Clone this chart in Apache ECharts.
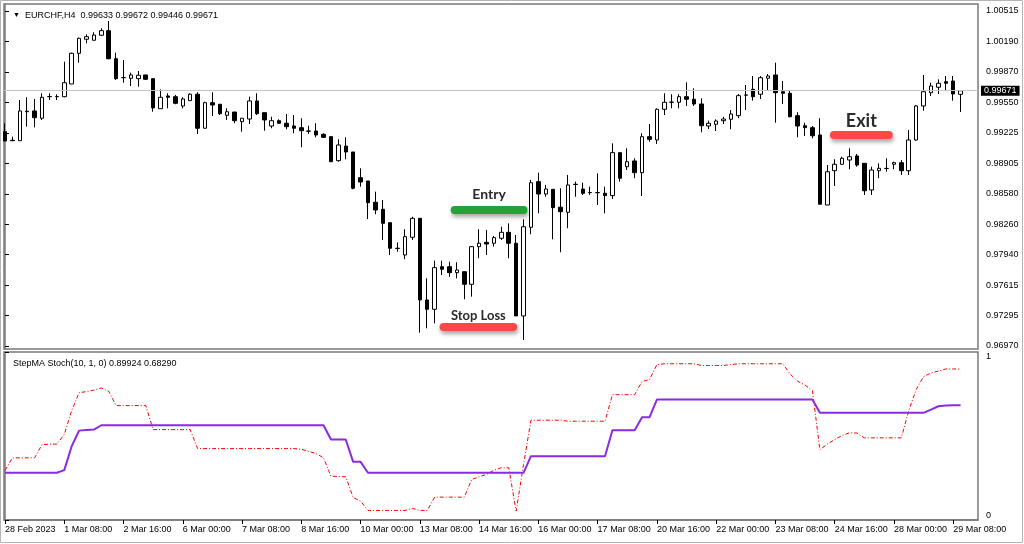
<!DOCTYPE html>
<html><head><meta charset="utf-8">
<script src="https://cdn.jsdelivr.net/npm/echarts@6/dist/echarts.min.js"></script>
<style>html,body{margin:0;padding:0;background:#fff}#c{width:1024px;height:544px}</style>
</head><body><div id="c"></div><script>
// ---- DATA ----
const symbolTitle = 'EURCHF,H4  0.99633 0.99672 0.99446 0.99671';
const indicatorTitle = 'StepMA Stoch(10, 1, 0) 0.89924 0.68290';
const timeLabels = ['28 Feb 2023','1 Mar 08:00','2 Mar 16:00','6 Mar 00:00','7 Mar 08:00','8 Mar 16:00','10 Mar 00:00','13 Mar 08:00','14 Mar 16:00','16 Mar 00:00','17 Mar 08:00','20 Mar 16:00','22 Mar 00:00','23 Mar 08:00','24 Mar 16:00','28 Mar 00:00','29 Mar 08:00'];
const timeLabelBar = [0,8,16,24,32,40,48,56,64,72,80,88,96,104,112,120,128];
const priceTicks = [0.96970,0.97295,0.97615,0.97940,0.98260,0.98580,0.98905,0.99225,0.99550,0.99870,1.00190,1.00515];
const indicatorTicks = [0,1];
const opens = [0.99238,0.99147,0.99142,0.99454,0.99457,0.99380,0.99608,0.99608,0.99608,0.99743,
1.00067,1.00216,1.00205,1.00258,1.00307,1.00010,0.99811,0.99803,0.99799,0.99838,
0.99799,0.99481,0.99616,0.99608,0.99510,0.99566,0.99634,0.99274,0.99545,0.99528,
0.99411,0.99446,0.99344,0.99372,0.99563,0.99439,0.99298,0.99354,0.99327,0.99298,
0.99280,0.99245,0.99245,0.99210,0.99185,0.98931,0.99086,0.99023,0.98751,0.98716,
0.98491,0.98417,0.98275,0.98004,0.97933,0.98120,0.98321,0.97457,0.97358,0.97809,
0.97809,0.97746,0.97756,0.97623,0.98021,0.98067,0.98057,0.98110,0.98173,0.98057,
0.97288,0.98226,0.98709,0.98578,0.98628,0.98438,0.98385,0.98681,0.98631,0.98594,
0.98594,0.98586,0.98561,0.99016,0.98867,0.98928,0.98804,0.99185,0.99150,0.99475,
0.99549,0.99549,0.99608,0.99581,0.99531,0.99298,0.99316,0.99354,0.99369,0.99407,
0.99624,0.99686,0.99634,0.99803,0.99838,0.99661,0.99644,0.99407,0.99301,0.99280,
0.99203,0.98462,0.98825,0.98893,0.98938,0.98981,0.98903,0.98621,0.98825,0.98848,
0.98893,0.98910,0.98825,0.99150,0.99510,0.99650,0.99708,0.99767,0.99774,0.99633];
const closes = [0.99139,0.99142,0.99457,0.99449,0.99386,0.99602,0.99610,0.99610,0.99756,1.00067,
1.00226,1.00243,1.00261,1.00307,1.00010,0.99799,0.99809,0.99838,0.99835,0.99792,
0.99489,0.99602,0.99602,0.99538,0.99584,0.99634,0.99274,0.99545,0.99520,0.99428,
0.99449,0.99354,0.99380,0.99563,0.99428,0.99362,0.99354,0.99327,0.99291,0.99274,
0.99248,0.99243,0.99203,0.99178,0.98920,0.99097,0.99023,0.98639,0.98705,0.98486,
0.98409,0.98268,0.98004,0.98002,0.98127,0.98321,0.97457,0.97358,0.97799,0.97782,
0.97746,0.97774,0.97623,0.98021,0.98057,0.98049,0.98116,0.98173,0.98057,0.97288,
0.98232,0.98698,0.98578,0.98631,0.98434,0.98391,0.98674,0.98679,0.98586,0.98592,
0.98592,0.98561,0.99016,0.98745,0.98920,0.98804,0.99185,0.99157,0.99475,0.99549,
0.99551,0.99608,0.99581,0.99531,0.99301,0.99327,0.99351,0.99372,0.99425,0.99619,
0.99626,0.99608,0.99809,0.99827,0.99650,0.99644,0.99396,0.99298,0.99280,0.99195,
0.98470,0.98814,0.98893,0.98956,0.98973,0.98885,0.98613,0.98832,0.98850,0.98850,
0.98910,0.98825,0.99150,0.99510,0.99661,0.99721,0.99750,0.99750,0.99637,0.99671];
const lows = [0.99139,0.99139,0.99142,0.99291,0.99284,0.99362,0.99573,0.99573,0.99602,0.99743,
0.99968,1.00173,1.00205,1.00250,1.00004,0.99785,0.99756,0.99721,0.99714,0.99785,
0.99449,0.99481,0.99485,0.99528,0.99485,0.99566,0.99213,0.99274,0.99404,0.99414,
0.99362,0.99327,0.99238,0.99319,0.99414,0.99248,0.99274,0.99319,0.99263,0.99221,
0.99073,0.99213,0.99178,0.99171,0.98920,0.98920,0.98946,0.98628,0.98656,0.98314,
0.98364,0.98092,0.97933,0.97968,0.97888,0.98092,0.97111,0.97157,0.97210,0.97721,
0.97703,0.97686,0.97464,0.97492,0.97898,0.97933,0.98021,0.98092,0.97898,0.97288,
0.97034,0.98152,0.98374,0.98550,0.98099,0.97962,0.98216,0.98550,0.98568,0.98568,
0.98462,0.98374,0.98526,0.98709,0.98832,0.98745,0.98557,0.99132,0.99108,0.99414,
0.99485,0.99485,0.99510,0.99510,0.99231,0.99266,0.99245,0.99319,0.99263,0.99380,
0.99467,0.99566,0.99584,0.99679,0.99333,0.99531,0.99390,0.99178,0.99192,0.99168,
0.98470,0.98462,0.98663,0.98885,0.98840,0.98867,0.98568,0.98568,0.98745,0.98814,
0.98840,0.98780,0.98780,0.99142,0.99460,0.99616,0.99637,0.99679,0.99566,0.99446];
const highs = [0.99327,0.99185,0.99573,0.99602,0.99584,0.99644,0.99644,0.99634,0.99979,1.00074,
1.00233,1.00268,1.00290,1.00332,1.00409,1.00074,0.99997,0.99862,0.99880,0.99838,
0.99799,0.99686,0.99644,0.99626,0.99602,0.99644,0.99655,0.99555,0.99655,0.99528,
0.99485,0.99446,0.99380,0.99608,0.99644,0.99439,0.99396,0.99369,0.99425,0.99414,
0.99380,0.99301,0.99327,0.99221,0.99185,0.99157,0.99178,0.99023,0.98850,0.98716,
0.98603,0.98515,0.98275,0.98067,0.98205,0.98338,0.98321,0.97686,0.97873,0.97873,
0.97862,0.97856,0.97756,0.98028,0.98205,0.98198,0.98134,0.98232,0.98268,0.98145,
0.98311,0.98727,0.98804,0.98674,0.98628,0.98639,0.98780,0.98709,0.98698,0.98656,
0.98797,0.98656,0.99115,0.99016,0.99062,0.98956,0.99221,0.99319,0.99485,0.99644,
0.99634,0.99634,0.99760,0.99697,0.99591,0.99354,0.99369,0.99396,0.99467,0.99637,
0.99732,0.99827,0.99827,0.99848,0.99968,0.99774,0.99672,0.99443,0.99333,0.99298,
0.99380,0.98885,0.98946,0.98973,0.99062,0.99002,0.98903,0.98867,0.98903,0.98956,
0.98920,0.98938,0.99256,0.99520,0.99838,0.99756,0.99792,0.99827,0.99827,0.99672];
const stochLine = [0.295,0.370,0.370,0.370,0.370,0.449,0.451,0.452,0.509,0.651,
0.758,0.764,0.773,0.786,0.766,0.681,0.681,0.681,0.681,0.681,
0.538,0.538,0.538,0.538,0.538,0.538,0.425,0.425,0.425,0.425,
0.425,0.425,0.425,0.425,0.425,0.425,0.425,0.425,0.425,0.425,
0.421,0.408,0.396,0.370,0.261,0.259,0.257,0.134,0.112,0.057,
0.057,0.057,0.057,0.057,0.057,0.069,0.057,0.057,0.136,0.136,
0.136,0.136,0.136,0.241,0.257,0.271,0.296,0.311,0.311,0.053,
0.330,0.594,0.594,0.594,0.594,0.594,0.588,0.588,0.588,0.588,
0.588,0.588,0.746,0.746,0.746,0.746,0.825,0.835,0.925,0.930,
0.930,0.930,0.930,0.930,0.920,0.920,0.920,0.920,0.925,0.930,
0.930,0.930,0.930,0.930,0.930,0.930,0.868,0.826,0.803,0.770,
0.419,0.452,0.479,0.503,0.519,0.518,0.489,0.489,0.489,0.489,
0.489,0.489,0.651,0.776,0.853,0.875,0.886,0.899,0.899,0.89924];
const stepMALine = [0.281,0.281,0.281,0.281,0.281,0.281,0.281,0.281,0.297,0.439,
0.532,0.536,0.538,0.564,0.564,0.564,0.564,0.564,0.564,0.564,
0.564,0.564,0.564,0.564,0.564,0.564,0.564,0.564,0.564,0.564,
0.564,0.564,0.564,0.564,0.564,0.564,0.564,0.564,0.564,0.564,
0.564,0.564,0.564,0.564,0.479,0.479,0.479,0.346,0.346,0.281,
0.281,0.281,0.281,0.281,0.281,0.281,0.281,0.281,0.281,0.281,
0.281,0.281,0.281,0.281,0.281,0.281,0.281,0.281,0.281,0.281,
0.281,0.380,0.380,0.380,0.380,0.380,0.380,0.380,0.380,0.380,
0.380,0.380,0.534,0.534,0.534,0.534,0.611,0.611,0.717,0.717,
0.717,0.717,0.717,0.717,0.717,0.717,0.717,0.717,0.717,0.717,
0.717,0.717,0.717,0.717,0.717,0.717,0.717,0.717,0.717,0.717,
0.638,0.638,0.638,0.638,0.638,0.638,0.638,0.638,0.638,0.638,
0.638,0.638,0.638,0.638,0.638,0.657,0.677,0.681,0.683,0.68290];
const signalNames = ['Entry','Stop Loss','Exit'];
const signalPrices = [0.98409, 0.97176, 0.99210];
const signalStartBar = [60.7, 59.2, 111.9];
const signalEndBar = [70.0, 68.6, 119.3];

// ---- CHART ----
const XMIN = -0.135, XMAX = 131.35;
const PMIN = 0.96938, PMAX = 1.00589;
const FONT = 'Liberation Sans';
const FRAME = '#7a7a7a';
const signalStyle = {
  'Entry': {color: '#27a137', size: 14, dist: 9},
  'Stop Loss': {color: '#ff4747', size: 13, dist: 4},
  'Exit': {color: '#ff4747', size: 18, dist: 4}
};
const candleData = opens.map((o, i) => [i, o, closes[i], lows[i], highs[i]]);
const lastClose = closes[closes.length - 1];

const chart = echarts.init(document.getElementById('c'), null, {renderer: 'canvas'});
chart.setOption({
  animation: false,
  backgroundColor: '#ffffff',
  textStyle: {fontFamily: FONT},
  title: [
    {text: '{t|▼}  ' + symbolTitle, left: 8, top: 6,
     textStyle: {fontFamily: FONT, fontSize: 9, fontWeight: 'normal', color: '#000',
       rich: {t: {fontSize: 7, color: '#000'}}}},
    {text: indicatorTitle, left: 8, top: 354,
     textStyle: {fontFamily: FONT, fontSize: 9, fontWeight: 'normal', color: '#000'}}
  ],
  graphic: [
    {type: 'rect', silent: true, shape: {x: 0.5, y: 0.5, width: 1022, height: 542},
     style: {fill: 'none', stroke: '#b4b4b4', lineWidth: 1}}
  ],
  grid: [
    {left: 4, right: 46, top: 4, height: 345, show: true, borderColor: FRAME, borderWidth: 1.5, backgroundColor: '#fff'},
    {left: 4, right: 46, top: 352, height: 168, show: true, borderColor: FRAME, borderWidth: 1.5, backgroundColor: '#fff'}
  ],
  xAxis: [
    {type: 'value', gridIndex: 0, min: XMIN, max: XMAX, axisLine: {show: false}, axisTick: {show: false},
     axisLabel: {show: false}, splitLine: {show: false}},
    {type: 'value', gridIndex: 1, min: XMIN, max: XMAX,
     axisLine: {show: true, lineStyle: {color: FRAME, width: 1.5}},
     axisTick: {show: true, customValues: timeLabelBar, length: 4, lineStyle: {color: '#000'}},
     axisLabel: {show: true, customValues: timeLabelBar, align: 'left', margin: 5, fontSize: 9, color: '#000', fontFamily: FONT,
       formatter: v => timeLabels[timeLabelBar.indexOf(Math.round(v))] || ''},
     splitLine: {show: false}}
  ],
  yAxis: [
    {type: 'value', gridIndex: 0, position: 'right', min: PMIN, max: PMAX, scale: true,
     axisLine: {show: true, lineStyle: {color: FRAME, width: 1.5}},
     axisTick: {show: true, customValues: priceTicks, length: 4, lineStyle: {color: '#000'}},
     axisLabel: {show: true, customValues: priceTicks, margin: 8, fontSize: 9, color: '#000', fontFamily: FONT,
       formatter: v => v.toFixed(5)},
     splitLine: {show: false}},
    {type: 'value', gridIndex: 1, position: 'right', min: 0, max: 1,
     axisLine: {show: true, lineStyle: {color: FRAME, width: 1.5}},
     axisTick: {show: true, customValues: indicatorTicks, length: 4, lineStyle: {color: '#000'}},
     axisLabel: {show: true, customValues: indicatorTicks, margin: 8, fontSize: 9, color: '#000', fontFamily: FONT,
       formatter: v => v >= 0.5 ? '{hi|' + v + '}' : '{lo|' + v + '}',
       rich: {hi: {padding: [10, 0, 0, 0], fontSize: 9, color: '#000'}, lo: {padding: [0, 0, 8, 0], fontSize: 9, color: '#000'}}},
     splitLine: {show: false}}
  ],
  series: [
    {type: 'line', xAxisIndex: 0, yAxisIndex: 0, data: [], z: 1, silent: true,
     markLine: {silent: true, symbol: ['none', 'none'], animation: false,
       data: [[
         {coord: [XMIN, lastClose],
          lineStyle: {color: '#c4c4c4', width: 1, type: 'solid'},
          label: {show: true, position: 'end', distance: 3, formatter: lastClose.toFixed(5),
            backgroundColor: '#000', color: '#fff', fontSize: 9, fontFamily: FONT, padding: [1, 3, 0, 3]}},
         {coord: [XMAX, lastClose]}
       ]]}},
    {type: 'candlestick', name: 'EURCHF', xAxisIndex: 0, yAxisIndex: 0, z: 3,
     encode: {x: 0, y: [1, 2, 3, 4]}, barWidth: 4,
     itemStyle: {color: '#ffffff', color0: '#000000', borderColor: '#000000', borderColor0: '#000000', borderColorDoji: '#000000', borderWidth: 1},
     data: candleData},
    {type: 'line', xAxisIndex: 0, yAxisIndex: 0, data: [], z: 5, silent: true,
     markLine: {silent: true, symbol: ['none', 'none'], animation: false,
       data: signalNames.map((n, k) => {
         const st = signalStyle[n];
         return [
           {coord: [signalStartBar[k], signalPrices[k]],
            lineStyle: {color: st.color, width: 8, type: 'solid', cap: 'round',
              shadowColor: 'rgba(0,0,0,0.35)', shadowBlur: 4, shadowOffsetX: 1, shadowOffsetY: 3},
            label: {show: true, position: 'insideMiddleTop', distance: st.dist, formatter: n,
              fontFamily: 'Lato', fontWeight: 'bold', fontSize: st.size, color: '#2b2b2b'}},
           {coord: [signalEndBar[k], signalPrices[k]]}
         ];
       })}},
    {type: 'line', name: 'Stoch', xAxisIndex: 1, yAxisIndex: 1, showSymbol: false, z: 2,
     lineStyle: {color: '#ff0000', width: 1, type: [4, 2, 1, 2]},
     data: stochLine.map((v, i) => [i, v])},
    {type: 'line', name: 'StepMA', xAxisIndex: 1, yAxisIndex: 1, showSymbol: false, z: 3,
     lineStyle: {color: '#8a2be2', width: 2},
     data: stepMALine.map((v, i) => [i, v])}
  ]
});
</script></body></html>
